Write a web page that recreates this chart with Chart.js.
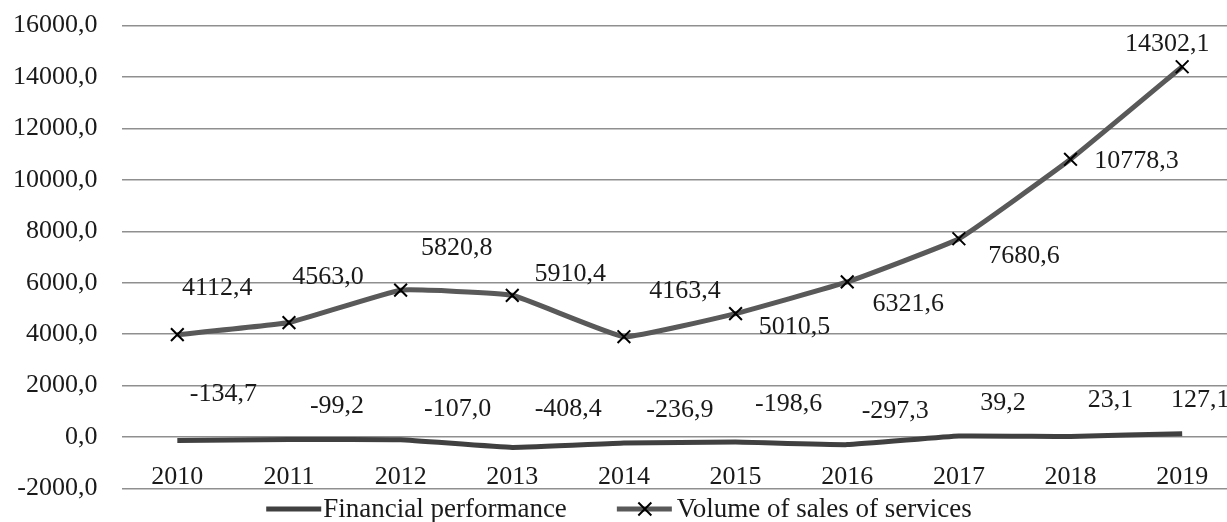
<!DOCTYPE html>
<html>
<head>
<meta charset="utf-8">
<script src="https://cdn.jsdelivr.net/npm/chart.js@4/dist/chart.umd.min.js"></script>
<style>
  html, body { margin: 0; padding: 0; background: #fff; overflow: hidden; }
  #wrap { width: 1250px; height: 542px; margin-top: -14px; }
</style>
</head>
<body>
<div id="wrap"><canvas id="salesChart"></canvas></div>
<script>
const years = ['2010', '2011', '2012', '2013', '2014', '2015', '2016', '2017', '2018', '2019'];
const financialPerformance = [-134.7, -99.2, -107.0, -408.4, -236.9, -198.6, -297.3, 39.2, 23.1, 127.1];
const salesVolume = [3980, 4450, 5710, 5510, 3900, 4800, 6030, 7710, 10800, 14400];
const salesVolumeLabels = [4112.4, 4563.0, 5820.8, 5910.4, 4163.4, 5010.5, 6321.6, 7680.6, 10778.3, 14302.1];
const yTicks = [-2000, 0, 2000, 4000, 6000, 8000, 10000, 12000, 14000, 16000];
const seriesNames = ['Financial performance', 'Volume of sales of services'];

const FONT = "'Liberation Serif', 'Times New Roman', serif";
const TEXT = '#1a1a1a';
const FIN_COLOR = '#404040';
const VOL_COLOR = '#595959';

// label placement (pixel offsets from each point), as in the source chart
const finOffsets = [[46,-46],[48,-33],[57,-31],[56,-38],[56,-33],[53,-38],[48,-33],[44,-33],[40,-36],[18,-34]];
const volOffsets = [[40,-46],[39,-45],[56,-42],[58,-21],[61,-46],[59,14],[61,22],[65,17],[66,2],[-15,-23]];

const fmt = (v) => v.toFixed(1).replace('.', ',');

const valueLabels = {
    id: 'valueLabels',
    afterDatasetsDraw(chart) {
        const ctx = chart.ctx;
        ctx.save();
        ctx.font = '26px ' + FONT;
        ctx.fillStyle = TEXT;
        ctx.textAlign = 'center';
        ctx.textBaseline = 'middle';
        chart.getDatasetMeta(0).data.forEach((pt, i) => {
            ctx.fillText(fmt(financialPerformance[i]), pt.x + finOffsets[i][0], pt.y + finOffsets[i][1]);
        });
        chart.getDatasetMeta(1).data.forEach((pt, i) => {
            ctx.fillText(fmt(salesVolumeLabels[i]), pt.x + volOffsets[i][0], pt.y + volOffsets[i][1]);
        });
        ctx.restore();
    }
};

// Excel-like legend: line sample glued to text, centred under the chart
const bottomLegend = {
    id: 'bottomLegend',
    afterDraw(chart) {
        const ctx = chart.ctx;
        const y = 523;
        const lineLen = 55, gap = 50;
        ctx.save();
        ctx.font = '27px ' + FONT;
        const w1 = ctx.measureText(seriesNames[0]).width;
        const w2 = ctx.measureText(seriesNames[1]).width;
        const total = lineLen + 2 + w1 + gap + lineLen + 5 + w2;
        let x = 619 - total / 2;

        ctx.lineWidth = 5;
        ctx.strokeStyle = FIN_COLOR;
        ctx.beginPath(); ctx.moveTo(x, y); ctx.lineTo(x + lineLen, y); ctx.stroke();
        ctx.fillStyle = TEXT;
        ctx.textBaseline = 'middle';
        ctx.fillText(seriesNames[0], x + lineLen + 2, y + 1);
        x += lineLen + 2 + w1 + gap;

        ctx.strokeStyle = VOL_COLOR;
        ctx.beginPath(); ctx.moveTo(x, y); ctx.lineTo(x + lineLen, y); ctx.stroke();
        const cx = x + 28;
        ctx.strokeStyle = '#000';
        ctx.lineWidth = 2;
        ctx.beginPath();
        ctx.moveTo(cx - 6.5, y - 6.5); ctx.lineTo(cx + 6.5, y + 6.5);
        ctx.moveTo(cx + 6.5, y - 6.5); ctx.lineTo(cx - 6.5, y + 6.5);
        ctx.stroke();
        ctx.fillText(seriesNames[1], x + lineLen + 5, y + 1);
        ctx.restore();
    }
};

new Chart(document.getElementById('salesChart'), {
    type: 'line',
    data: {
        labels: years,
        datasets: [
            {
                label: seriesNames[0],
                data: financialPerformance,
                borderColor: FIN_COLOR,
                borderWidth: 5,
                pointRadius: 0,
                tension: 0.1
            },
            {
                label: seriesNames[1],
                data: salesVolume,
                borderColor: VOL_COLOR,
                borderWidth: 5,
                tension: 0.1,
                pointStyle: 'crossRot',
                pointRadius: 9,
                pointBorderColor: '#000',
                pointBorderWidth: 2,
                pointBackgroundColor: '#000'
            }
        ]
    },
    options: {
        responsive: true,
        maintainAspectRatio: false,
        animation: false,
        layout: { padding: { left: -11, right: 12, top: -1, bottom: 28 } },
        scales: {
            x: {
                position: { y: 0 },
                offset: true,
                grid: { display: false, drawTicks: false },
                border: { display: false },
                ticks: { color: TEXT, font: { family: FONT, size: 26 }, padding: 25, maxRotation: 0 }
            },
            y: {
                min: -2000,
                max: 16000,
                afterBuildTicks: (axis) => { axis.ticks = yTicks.map(v => ({ value: v })); },
                grid: { color: '#8f8f8f', lineWidth: 1.5, drawTicks: false },
                border: { display: false },
                ticks: { color: TEXT, font: { family: FONT, size: 26 }, padding: 24, callback: (v) => fmt(v) }
            }
        },
        plugins: {
            legend: { display: false },
            tooltip: { enabled: false }
        }
    },
    plugins: [valueLabels, bottomLegend]
});
</script>
</body>
</html>
